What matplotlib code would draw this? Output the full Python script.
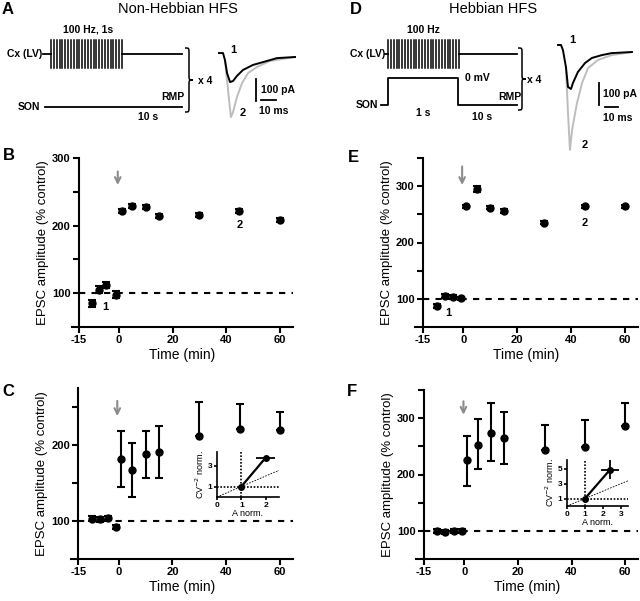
import matplotlib.pyplot as plt
import numpy as np
from matplotlib.path import Path
from matplotlib.patches import PathPatch
from matplotlib.ticker import FuncFormatter

plt.rcParams['font.family'] = ['Liberation Sans', 'DejaVu Sans']
plt.rcParams['axes.unicode_minus'] = False

# EPSC amplitude (% control) vs time (min)
t_b = [-10, -7.5, -5, -1, 1, 5, 10, 15, 30, 45, 60]
amp_b = [85, 105, 112, 98, 222, 229, 228, 214, 215, 222, 208]
err_b = [5, 5, 5, 5, 3, 3, 3, 3, 3, 3, 3]

t_e = [-10, -7, -4, -1, 1, 5, 10, 15, 30, 45, 60]
amp_e = [87, 105, 103, 101, 264, 295, 262, 256, 235, 264, 264]
err_e = [4, 3, 3, 3, 3, 6, 3, 3, 3, 3, 3]

t_c = [-10, -7, -4, -1, 1, 5, 10, 15, 30, 45, 60]
amp_c = [103, 102, 104, 92, 182, 167, 188, 191, 212, 221, 220]
errlo_c = [3, 3, 3, 3, 37, 36, 31, 34, 0, 0, 0]
errhi_c = [3, 3, 3, 3, 37, 36, 31, 34, 45, 33, 23]

t_f = [-10, -7, -4, -1, 1, 5, 10, 15, 30, 45, 60]
amp_f = [100, 98, 100, 100, 225, 253, 274, 265, 243, 249, 286]
errlo_f = [4, 3, 3, 4, 45, 44, 50, 46, 0, 0, 0]
errhi_f = [4, 3, 3, 4, 43, 46, 53, 46, 44, 47, 41]

# CV^-2 analysis insets
a_norm_c = [1, 2.0]
cv_norm_c = [1, 3.75]
a_err_c = [0, 0.4]
cv_err_c = [0, 0.15]
a_norm_f = [1, 2.4]
cv_norm_f = [1, 4.9]
a_err_f = [0, 0.5]
cv_err_f = [0, 1.3]

# example EPSC traces (ms, pA)
tr_a_t1 = [-2.7, 0, 1.3, 2.7, 4.7, 6.7, 9.3, 13.3, 20, 26.7, 36, 48]
tr_a_i1 = [18, 18, -14, -73, -114, -109, -86, -59, -36, -23, -5, 0]
tr_a_t2 = [1.3, 2.7, 4, 5.3, 6.7, 9.3, 12.7, 16.7, 22.7, 31.3, 48]
tr_a_i2 = [-14, -105, -195, -273, -250, -182, -118, -73, -45, -18, 0]
tr_d_t1 = [-2.3, 0, 1.5, 3.8, 5.4, 7.7, 9.2, 13, 18.5, 23.8, 31.5, 39, 54.6]
tr_d_i1 = [32, 32, 9, -68, -159, -168, -141, -91, -50, -27, -14, -5, 0]
tr_d_t2 = [3.8, 5.4, 6.9, 8.5, 12.3, 16.2, 20.8, 28.5, 39, 54.6]
tr_d_i2 = [-68, -277, -445, -355, -232, -141, -73, -36, -14, 0]

W, H = 640, 601
fig = plt.figure(figsize=(6.4, 6.01), dpi=100)


def px_axes(l, r, t, b):
    return fig.add_axes([l / W, 1 - b / H, (r - l) / W, (b - t) / H])


# ---------- schematic overlay (pixel coordinates) ----------
ov = fig.add_axes([0, 0, 1, 1])
ov.set_xlim(0, W)
ov.set_ylim(H, 0)
ov.axis('off')

lw = 1.3
small = dict(fontsize=7.5, fontweight='bold')


def brace(x0, x1, yt, yb):
    xm = (x0 + x1) / 2
    ym = (yt + yb) / 2
    r = 5
    verts = [(x0, yt), (xm, yt), (xm, yt), (xm, yt + r), (xm, ym - r),
             (xm, ym), (xm, ym), (x1, ym), (xm, ym), (xm, ym), (xm, ym + r),
             (xm, yb - r), (xm, yb), (xm, yb), (x0, yb)]
    codes = [Path.MOVETO, Path.CURVE4, Path.CURVE4, Path.CURVE4, Path.LINETO,
             Path.CURVE4, Path.CURVE4, Path.CURVE4, Path.CURVE4, Path.CURVE4,
             Path.CURVE4, Path.LINETO, Path.CURVE4, Path.CURVE4, Path.CURVE4]
    ov.add_patch(PathPatch(Path(verts, codes), fill=False, lw=1.1, color='k'))


def train(x0, x1, yt, yb, n=26):
    for x in np.linspace(x0, x1, n):
        ov.plot([x, x], [yt, yb], color='k', lw=1.1)


# A
ov.text(8, 9, 'A', fontsize=12, fontweight='bold', ha='center', va='center')
ov.text(178, 9, 'Non-Hebbian HFS', fontsize=10.5, ha='center', va='center')
ov.text(88, 29, '100 Hz, 1s', ha='center', va='center', **small)
ov.text(42, 54, 'Cx (LV)', ha='right', va='center', **small)
ov.plot([43, 51], [54, 54], color='k', lw=lw)
train(51, 122, 40, 68)
ov.plot([122, 182], [54, 54], color='k', lw=lw)
ov.text(40, 107, 'SON', ha='right', va='center', **small)
ov.plot([45, 182], [107, 107], color='k', lw=lw)
ov.text(173, 97, 'RMP', ha='center', va='center', **small)
ov.text(148, 117, '10 s', ha='center', va='center', **small)
brace(185, 193, 48, 112)
ov.text(205, 81, 'x 4', ha='center', va='center', **small)

# D
ov.text(356, 9, 'D', fontsize=12, fontweight='bold', ha='center', va='center')
ov.text(493, 9, 'Hebbian HFS', fontsize=10.5, ha='center', va='center')
ov.text(423, 30, '100 Hz', ha='center', va='center', **small)
ov.text(385, 54, 'Cx (LV)', ha='right', va='center', **small)
ov.plot([385, 388], [54, 54], color='k', lw=lw)
train(388, 459, 40, 68)
ov.plot([459, 517], [54, 54], color='k', lw=lw)
ov.text(378, 105, 'SON', ha='right', va='center', **small)
ov.plot([381, 388, 388, 458, 458, 517], [105, 105, 78, 78, 105, 105],
        color='k', lw=lw)
ov.text(477, 78, '0 mV', ha='center', va='center', **small)
ov.text(510, 97, 'RMP', ha='center', va='center', **small)
ov.text(423, 113, '1 s', ha='center', va='center', **small)
ov.text(482, 117, '10 s', ha='center', va='center', **small)
brace(518, 526, 48, 110)
ov.text(534, 80, 'x 4', ha='center', va='center', **small)


# ---------- traces ----------
def trace_axes(box, xl, yl, t1, i1, t2, i2, bar, lab1, lab2):
    ax = px_axes(*box)
    ax.set_xlim(*xl)
    ax.set_ylim(*yl)
    ax.axis('off')
    ax.plot(t2, i2, color='#bdbdbd', lw=1.4)
    ax.plot(t1, i1, color='k', lw=1.4)
    vx, vy0, vy1, hy, hx0, hx1 = bar
    ax.plot([vx, vx], [vy0, vy1], color='k', lw=1.3)
    ax.plot([hx0, hx1], [hy, hy], color='k', lw=1.3)
    ax.text(vx + 3.5, (vy0 + vy1) / 2, '100 pA', ha='left', va='center', **small)
    ax.text(hx0 - 1.5, hy - 50, '10 ms', ha='left', va='center', **small)
    ax.text(lab1[0], lab1[1], '1', ha='center', va='center', fontsize=8, fontweight='bold')
    ax.text(lab2[0], lab2[1], '2', ha='center', va='center', fontsize=8, fontweight='bold')


trace_axes((210, 300, 40, 125), (-8.67, 51.33), (-309, 77.3),
           tr_a_t1, tr_a_i1, tr_a_t2, tr_a_i2,
           (22, -100, -200, -196, 25.3, 35.3), (6.7, 32), (13.3, -255))
trace_axes((545, 640, 35, 155), (-12.3, 60.8), (-468, 77.3),
           tr_d_t1, tr_d_i1, tr_d_t2, tr_d_i2,
           (29.2, -141, -241, -250, 33.8, 43.8), (8.5, 55), (18.5, -423))


# ---------- time course panels ----------
def fmt_major(v, pos):
    return '%d' % v if v % 100 == 0 else ''


def timecourse(box, xl, yl, yticks, t, y, elo, ehi, arrow, letter, lpos):
    ax = px_axes(*box)
    ax.set_xlim(*xl)
    ax.set_ylim(*yl)
    for s in ['top', 'right']:
        ax.spines[s].set_visible(False)
    ax.spines['left'].set_position(('data', -15))
    for s in ['left', 'bottom']:
        ax.spines[s].set_linewidth(1.5)
    ax.set_xticks([-15, 0, 20, 40, 60])
    ax.set_yticks(yticks)
    ax.yaxis.set_major_formatter(FuncFormatter(fmt_major))
    ax.tick_params(direction='out', length=4, width=1.5, labelsize=8, pad=2)
    for lab in ax.get_xticklabels() + ax.get_yticklabels():
        lab.set_fontweight('bold')
    ax.plot([-15, xl[1]], [100, 100], color='k', lw=1.5, dashes=(3, 3))
    ax.errorbar(t, y, yerr=[elo, ehi], fmt='o', color='k', ms=5,
                elinewidth=1.5, capsize=3, capthick=1.5, zorder=3)
    ax.annotate('', xy=(arrow[0], arrow[2]), xytext=(arrow[0], arrow[1]),
                arrowprops=dict(arrowstyle='->', color='#8c8c8c', lw=1.5,
                                mutation_scale=10, shrinkA=0, shrinkB=0))
    ax.set_xlabel('Time (min)', fontsize=10, labelpad=2)
    ax.set_ylabel('EPSC amplitude (% control)', fontsize=9.5, labelpad=2)
    fig.text(lpos[0] / W, 1 - lpos[1] / H, letter, fontsize=12,
             fontweight='bold', ha='center', va='center')
    return ax


ax_b = timecourse((72, 293, 158, 327), (-17.6, 65), (50, 300),
                  [100, 150, 200, 250, 300], t_b, amp_b, err_b, err_b,
                  (-0.5, 280, 260), 'B', (9, 155))
ax_b.text(-5, 80, '1', ha='center', va='center', fontsize=8, fontweight='bold')
ax_b.text(45, 201, '2', ha='center', va='center', fontsize=8, fontweight='bold')

ax_e = timecourse((415, 638, 158, 327), (-18, 64.8), (50, 350),
                  [100, 150, 200, 250, 300, 350], t_e, amp_e, err_e, err_e,
                  (-0.5, 335, 302), 'E', (353, 158))
ax_e.text(-5.5, 74, '1', ha='center', va='center', fontsize=8, fontweight='bold')
ax_e.text(45, 235, '2', ha='center', va='center', fontsize=8, fontweight='bold')

ax_c = timecourse((71, 293, 388, 559), (-17.7, 64.8), (50, 275),
                  [100, 150, 200, 250], t_c, amp_c, errlo_c, errhi_c,
                  (-0.5, 258, 238), 'C', (8, 391))

ax_f = timecourse((416, 638, 390, 559), (-18, 64.8), (50, 350),
                  [100, 150, 200, 250, 300, 350], t_f, amp_f, errlo_f, errhi_f,
                  (-0.3, 330, 306), 'F', (352, 391))


# ---------- CV insets ----------
def inset(box, xl, yl, xt, a, cv, ae, ce):
    ax = px_axes(*box)
    ax.set_xlim(*xl)
    ax.set_ylim(*yl)
    for s in ['top', 'right']:
        ax.spines[s].set_visible(False)
    for s in ['left', 'bottom']:
        ax.spines[s].set_linewidth(1.2)
    ax.set_xticks(xt)
    ax.set_yticks([1, 3] if yl[1] < 5 else [1, 3, 5])
    ax.tick_params(direction='out', length=2.5, width=1.2, labelsize=6, pad=1)
    for lab in ax.get_xticklabels() + ax.get_yticklabels():
        lab.set_fontweight('bold')
    ax.axvline(1, color='k', lw=1.2, ls=(0, (1, 1)))
    ax.axhline(1, color='k', lw=1.2, ls=(0, (1, 1)))
    ax.plot([0, xl[1]], [0, xl[1]], color='k', lw=0.6, dashes=(2, 1.5))
    ax.plot(a, cv, color='k', lw=1.6)
    ax.errorbar(a, cv, xerr=ae, yerr=ce, fmt='o', color='k', ms=4,
                elinewidth=1.3, capsize=0, zorder=3)
    ax.set_xlabel('A norm.', fontsize=6.5, labelpad=0)
    ax.set_ylabel(r'CV$^{-2}$ norm.', fontsize=6.5, labelpad=1)
    ax.patch.set_alpha(0)


inset((217, 279, 452, 497), (0, 2.55), (0, 4.3), [0, 1, 2],
      a_norm_c, cv_norm_c, a_err_c, cv_err_c)
inset((567, 628, 460, 506), (0, 3.4), (0, 6.2), [0, 1, 2, 3],
      a_norm_f, cv_norm_f, a_err_f, cv_err_f)

fig.savefig('out.png', dpi=100)
